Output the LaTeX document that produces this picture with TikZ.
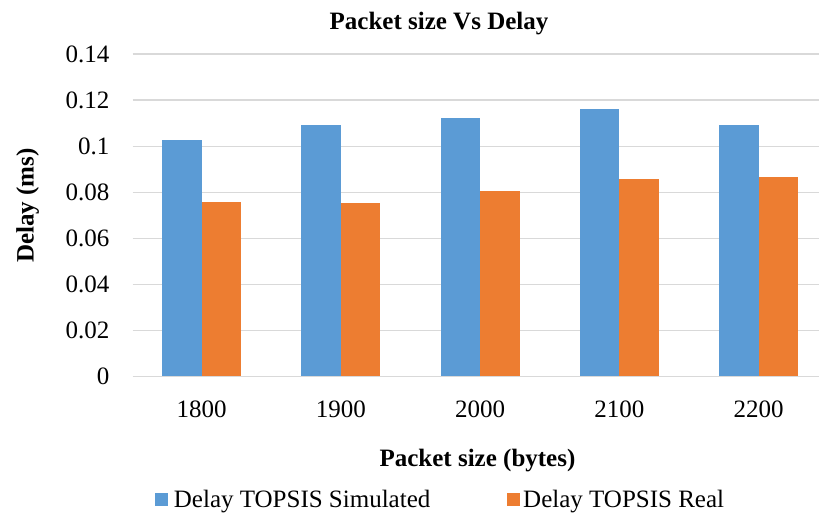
\documentclass[tikz,border=0pt]{standalone}
\usepackage{fontspec}
\setmainfont{Liberation Serif}
\usetikzlibrary{positioning}
\definecolor{simblue}{HTML}{5B9BD5}
\definecolor{realorange}{HTML}{ED7D31}
\definecolor{gridgray}{HTML}{D9D9D9}
\tikzset{gridline/.style={gridgray,line width=1.3pt},
lab/.style={font=\fontsize{25}{30}\selectfont,text=black,inner sep=0pt},
head/.style={lab,font=\fontsize{25}{30}\selectfont\bfseries},
keybox/.style={inner sep=0pt,minimum size=13pt}}

\begin{document}
\begin{tikzpicture}[x=1pt,y=-1pt]
\useasboundingbox (0,0) rectangle (819,514);
\foreach \i/\t in {0/0,1/0.02,2/0.04,3/0.06,4/0.08,5/0.1,6/0.12,7/0.14}{
  \draw[gridline] (132.7,376.5-46.07*\i) -- (819,376.5-46.07*\i);
  \node[lab,anchor=east] (tick\i) at (109.5,376.5-46.07*\i) {\t};
}
\foreach \i/\pkt/\sim/\real in {0/1800/0.1026/0.0756,1/1900/0.1092/0.0753,
  2/2000/0.1121/0.0805,3/2100/0.1162/0.0858,4/2200/0.1091/0.0866}{
  \fill[simblue] (162.2+139.25*\i,376) rectangle ++(39.5,-2305*\sim+0.5);
  \fill[realorange] (201.7+139.25*\i,376) rectangle ++(39.5,-2305*\real+0.5);
  \node[lab,anchor=base] (cat\i) at (201.7+139.25*\i,417) {\pkt};
}
\node[head,anchor=base] (title) at (439,29) {Packet size Vs Delay};
\node[head,anchor=base] (xtitle) at (477.5,466) {Packet size (bytes)};
\node[head,anchor=base,rotate=90] (ytitle) at (33.5,205.5) {Delay (ms)};
\node[keybox,fill=simblue] (simkey) at (161.5,499.5) {};
\node[lab,anchor=base west] (simtext) at (173.7,507) {Delay TOPSIS Simulated};
\node[keybox,fill=realorange] (realkey) at (513.5,499.5) {};
\node[lab,anchor=base west] (realtext) at (523,507) {Delay TOPSIS Real};
\end{tikzpicture}
\end{document}
